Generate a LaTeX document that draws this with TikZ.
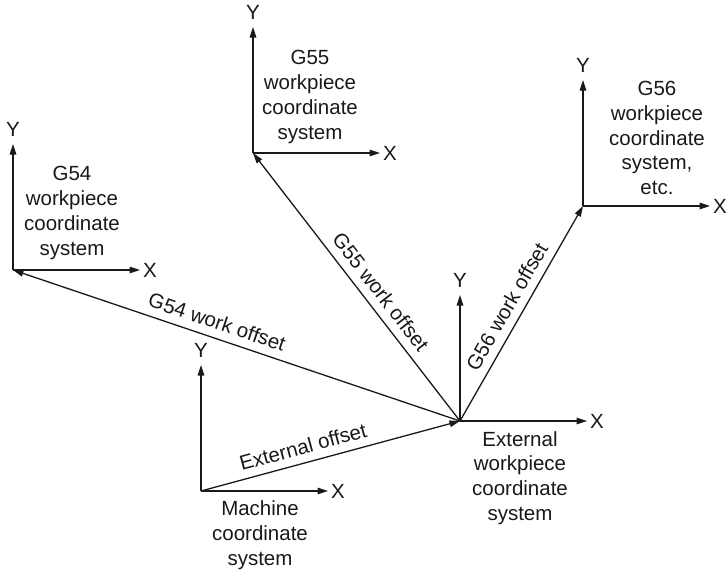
\documentclass[tikz,border=0pt]{standalone}
\usepackage{fontspec}
\setmainfont{Liberation Sans}
\usetikzlibrary{arrows.meta}
\begin{document}
\begin{tikzpicture}[x=1pt,y=-1pt,
  vec/.style={line width=1.3pt, draw=black!90, -{Triangle[length=10.5pt,width=6.5pt]}},
  blk/.style={font=\fontsize{20.5}{24.8}\selectfont, text=black!90, align=center, inner sep=0pt},
  axl/.style={font=\fontsize{20.5}{24}\selectfont, text=black!90, inner sep=0pt},
  offl/.style={font=\fontsize{20.5}{24}\selectfont, text=black!90, sloped, inner sep=0pt, above=8pt}]
\useasboundingbox (0,0) rectangle (726,571);

% origins of the coordinate systems
\coordinate (M) at (201,491);   % machine
\coordinate (E) at (460,421);   % external workpiece
\coordinate (A) at (13,270);    % G54
\coordinate (B) at (253,153);   % G55
\coordinate (C) at (583,206);   % G56

% axes of each system
\foreach \o in {M,E,A,B,C}{
  \draw[vec] (\o) -- ++(0,-126) coordinate (\o Y);
  \draw[vec] (\o) -- ++(127,0) coordinate (\o X);
  \node[axl, above=7pt] (\o Yl) at (\o Y) {Y};
  \node[axl, right=3pt] (\o Xl) at (\o X) {X};
}

% offset vectors
\draw[vec] (M) -- node[offl, pos=0.41] (extoff) {External offset} (E);
\draw[vec] (E) -- node[offl, pos=0.555] (off54) {G54 work offset} (A);
\draw[vec] (E) -- node[offl, pos=0.444] (off55) {G55 work offset} (B);
\draw[vec] (E) -- node[offl, pos=0.494] (off56) {G56 work offset} (C);

% system captions
\node[blk] (capA) at (72,213) {G54\\workpiece\\coordinate\\system};
\node[blk] (capB) at (310,97) {G55\\workpiece\\coordinate\\system};
\node[blk] (capC) at (657,138) {G56\\workpiece\\coordinate\\system,\\etc.};
\node[blk] (capE) at (520,478) {External\\workpiece\\coordinate\\system};
\node[blk] (capM) at (260,535) {Machine\\coordinate\\system};
\end{tikzpicture}
\end{document}
